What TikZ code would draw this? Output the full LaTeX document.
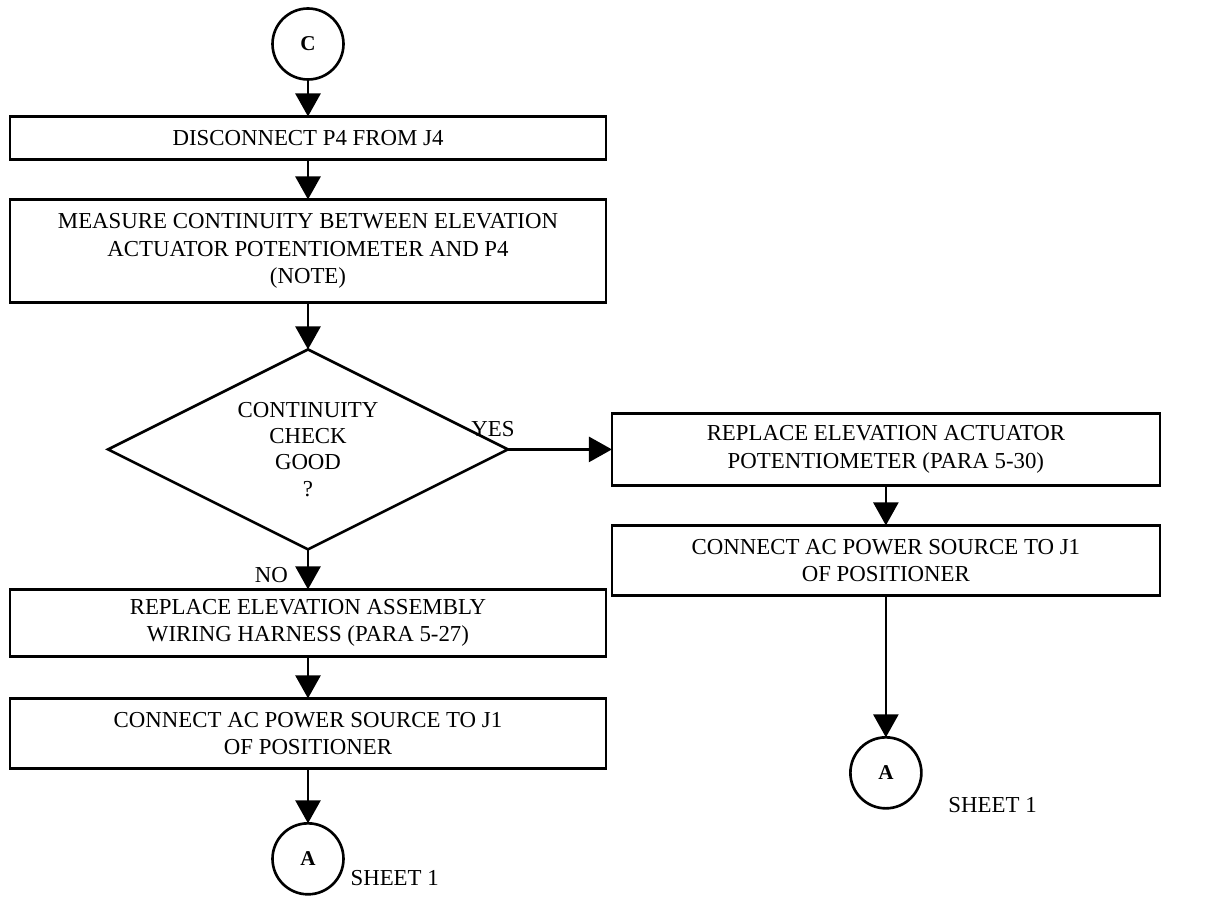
\documentclass[tikz,border=0pt]{standalone}
\usepackage{fontspec}
\setmainfont{Liberation Serif}
\usetikzlibrary{shapes.geometric, positioning, arrows.meta}

\begin{document}
\begin{tikzpicture}[
    x=0.02cm, y=-0.02cm,
    stepbox/.style={
        rectangle,
        draw,
        line width=1.5pt,
        outer sep=0pt,
        minimum width=11.92cm,
        inner sep=2pt,
        align=center,
        font=\fontsize{13}{15.5}\selectfont
    },
    rightbox/.style={
        stepbox,
        minimum width=10.96cm
    },
    decision/.style={
        diamond,
        draw,
        line width=1.5pt,
        outer sep=0pt,
        aspect=2,
        minimum width=8cm,
        minimum height=4cm,
        inner sep=0pt,
        align=center,
        font=\fontsize{13}{15}\selectfont
    },
    connector/.style={
        circle,
        draw,
        line width=1.5pt,
        outer sep=0pt,
        minimum size=1.42cm,
        inner sep=0pt,
        font=\fontsize{12}{14}\selectfont\bfseries
    },
    flow/.style={
        -{Triangle[length=0.46cm,width=0.5cm]},
        line width=1.5pt
    },
    tag/.style={
        inner sep=1pt,
        font=\fontsize{13}{15}\selectfont
    }
]
    \useasboundingbox (0,0) rectangle (1208,901);

    % Left column
    \node[connector] (startC) at (308,44) {C};
    \node[stepbox, minimum height=0.86cm, below=0.74cm of startC] (disconnect) {DISCONNECT P4 FROM J4};
    \node[stepbox, minimum height=2.06cm, below=0.8cm of disconnect] (measure)
        {MEASURE CONTINUITY BETWEEN ELEVATION\\ ACTUATOR POTENTIOMETER AND P4\\ (NOTE)};
    \node[decision, below=0.94cm of measure] (check) {CONTINUITY\\ CHECK\\ GOOD\\ ?};
    \node[stepbox, minimum height=1.34cm, below=0.8cm of check] (harness)
        {REPLACE ELEVATION ASSEMBLY\\ WIRING HARNESS (PARA 5-27)};
    \node[stepbox, minimum height=1.4cm, below=0.84cm of harness] (powerL)
        {CONNECT AC POWER SOURCE TO J1\\ OF POSITIONER};
    \node[connector, below=1.1cm of powerL] (endL) {A};

    % Right column
    \node[rightbox, minimum height=1.44cm, right=2.08cm of check] (potent)
        {REPLACE ELEVATION ACTUATOR\\ POTENTIOMETER (PARA 5-30)};
    \node[rightbox, minimum height=1.4cm, below=0.8cm of potent] (powerR)
        {CONNECT AC POWER SOURCE TO J1\\ OF POSITIONER};
    \node[connector, below=2.84cm of powerR] (endR) {A};

    % Labels
    \node[tag, anchor=south, xshift=-0.3cm, yshift=0.22cm] (yes) at (check.east) {YES};
    \node[tag, anchor=east, xshift=-0.36cm, yshift=-0.52cm] (no) at (check.south) {NO};
    \node[tag, right=0.1cm of endL.east, yshift=-0.38cm] (sheetL) {SHEET 1};
    \node[tag, right=0.5cm of endR.east, yshift=-0.64cm] (sheetR) {SHEET 1};

    % Flow
    \draw[flow] (startC) -- (disconnect);
    \draw[flow] (disconnect) -- (measure);
    \draw[flow] (measure) -- (check);
    \draw[flow] (check) -- (harness);
    \draw[flow] (harness) -- (powerL);
    \draw[flow] (powerL) -- (endL);
    \draw[flow] (check) -- (potent);
    \draw[flow] (potent) -- (powerR);
    \draw[flow] (powerR) -- (endR);
\end{tikzpicture}
\end{document}
